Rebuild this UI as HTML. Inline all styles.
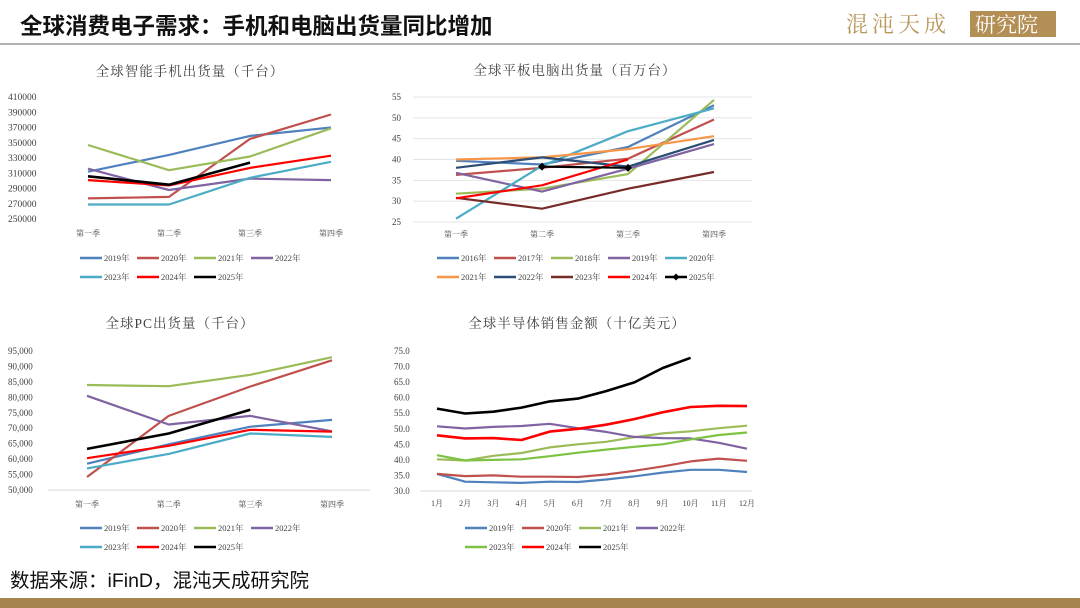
<!DOCTYPE html>
<html><head><meta charset="utf-8">
<style>
body{margin:0;background:#fff;}
#wrap{position:relative;width:1080px;height:608px;overflow:hidden;background:#fff;font-family:"Liberation Serif","Noto Serif CJK SC",serif;}
svg text{font-family:"Liberation Serif","Noto Serif CJK SC",serif;}
</style></head>
<body>
<div id="wrap">
<svg id="svg" width="1080" height="608">
  <text x="20" y="34" font-size="22.5" font-weight="bold" fill="#111" style="font-family:'Liberation Sans','Noto Sans CJK SC',sans-serif">全球消费电子需求：手机和电脑出货量同比增加</text>
  <line x1="0" y1="44" x2="1080" y2="44" stroke="#9a9a9a" stroke-width="1.5"/>
  <text x="846" y="32" font-size="22" fill="#b8975a" letter-spacing="4">混沌天成</text>
  <rect x="970" y="11" width="86" height="26" fill="#b38e55"/>
  <text x="975" y="32" font-size="21" fill="#fff">研究院</text>
  <text x="10" y="587" font-size="19.5" fill="#111" style="font-family:'Liberation Sans','Noto Sans CJK SC',sans-serif">数据来源：iFinD，混沌天成研究院</text>
  <rect x="0" y="598" width="1080" height="10" fill="#a5844f"/>
</svg>
</div>
<script>
// ---- Chart 1: smartphones ----
const phoneCats = ["第一季","第二季","第三季","第四季"];
const phoneTicks = ["250000","270000","290000","310000","330000","350000","370000","390000","410000"];
const phoneNames = ["2019年","2020年","2021年","2022年","2023年","2024年","2025年"];
const phone2019 = [312000,334000,359000,370000];
const phone2020 = [277000,279000,355000,387000];
const phone2021 = [347000,314000,332000,369000];
const phone2022 = [316000,288000,303000,301000];
const phone2023 = [269000,269000,304000,325000];
const phone2024 = [301000,294000,317000,333000];
const phone2025 = [306000,295000,324000];
// ---- Chart 2: tablets ----
const tabCats = ["第一季","第二季","第三季","第四季"];
const tabTicks = ["25","30","35","40","45","50","55"];
const tabNames = ["2016年","2017年","2018年","2019年","2020年","2021年","2022年","2023年","2024年","2025年"];
const tab2016 = [39.7,38.8,43.0,53.0];
const tab2017 = [36.3,38.0,40.2,49.6];
const tab2018 = [31.8,33.0,36.5,54.3];
const tab2019 = [36.8,32.3,37.8,43.7];
const tab2020 = [25.8,38.5,46.8,52.3];
const tab2021 = [40.0,40.5,42.5,45.6];
const tab2022 = [38.0,40.5,38.3,44.7];
const tab2023 = [30.8,28.2,33.0,37.0];
const tab2024 = [30.7,33.8,40.0];
const tab2025 = [null,38.3,38.0];
// ---- Chart 3: PC ----
const pcCats = ["第一季","第二季","第三季","第四季"];
const pcTicks = ["50,000","55,000","60,000","65,000","70,000","75,000","80,000","85,000","90,000","95,000"];
const pcNames = ["2019年","2020年","2021年","2022年","2023年","2024年","2025年"];
const pc2019 = [58500,64800,70500,72700];
const pc2020 = [54200,74000,83500,92000];
const pc2021 = [84000,83600,87300,93000];
const pc2022 = [80500,71200,74000,69000];
const pc2023 = [57000,61700,68300,67200];
const pc2024 = [60300,64300,69500,68900];
const pc2025 = [63300,68300,76000];
// ---- Chart 4: semiconductors ----
const semiCats = ["1月","2月","3月","4月","5月","6月","7月","8月","9月","10月","11月","12月"];
const semiTicks = ["30.0","35.0","40.0","45.0","50.0","55.0","60.0","65.0","70.0","75.0"];
const semiNames = ["2019年","2020年","2021年","2022年","2023年","2024年","2025年"];
const semi2019 = [35.5,33.0,32.8,32.6,33.0,32.9,33.7,34.7,35.9,36.8,36.8,36.1];
const semi2020 = [35.5,34.8,35.0,34.6,34.6,34.5,35.3,36.5,37.9,39.5,40.4,39.7];
const semi2021 = [40.2,39.8,41.3,42.2,44.0,45.0,45.8,47.3,48.5,49.2,50.2,51.0];
const semi2022 = [50.8,50.1,50.6,50.9,51.6,50.2,49.0,47.4,47.0,46.9,45.5,43.6];
const semi2023 = [41.5,39.8,40.0,40.2,41.2,42.3,43.3,44.2,45.0,46.6,48.0,48.8];
const semi2024 = [47.9,46.9,47.0,46.4,49.1,50.0,51.3,53.1,55.3,57.0,57.4,57.3];
const semi2025 = [56.5,54.9,55.5,56.8,58.8,59.7,62.1,64.9,69.5,72.8];

const svg = document.getElementById('svg');
const NS = 'http://www.w3.org/2000/svg';
function mk(tag, attrs){ const e=document.createElementNS(NS,tag); for(const k in attrs) e.setAttribute(k,attrs[k]); svg.appendChild(e); return e; }

function drawChart(cfg){
  const g = cfg;
  const yv = g.ticks.map(t=>parseFloat(t.replace(/,/g,'')));
  const ymin=yv[0], ymax=yv[yv.length-1];
  const ys = v => g.yBot - (v-ymin)/(ymax-ymin)*(g.yBot-g.yTop);
  const n=g.cats.length;
  const xs = i => g.x0 + i*(g.x1-g.x0)/(n-1);
  let t=mk('text',{x:g.titleX,y:g.titleY,'font-size':13.5,fill:'#404040','text-anchor':'middle','letter-spacing':'1'});
  t.textContent=g.title;
  
  
  g.ticks.forEach((lab,i)=>{
    const y=ys(yv[i]);
    if(g.grid){ const l=mk('line',{x1:g.gx0,x2:g.gx1,y1:y,y2:y,stroke:'#e4e4e4','stroke-width':1});
      
       }
    const tx=mk('text',{x:g.labX,y:y+3,'font-size':g.tickFs,fill:'#404040','text-anchor':g.labAnchor});
    tx.textContent=lab;
    
    
  });
  if(g.axis){ const a=mk('line',{x1:g.gx0,x2:g.gx1,y1:g.yBot,y2:g.yBot,stroke:'#d9d9d9','stroke-width':1});
    
     }
  g.cats.forEach((c,i)=>{
    const tx=mk('text',{x:xs(i),y:g.catY,'font-size':g.catFs,fill:'#404040','text-anchor':'middle'});
    tx.textContent=c;
    
    
  });
  g.series.forEach((s,si)=>{
    let d='';
    s.data.forEach((v,i)=>{ if(v==null) return; d += (d?'L':'M')+xs(i).toFixed(1)+','+ys(v).toFixed(1); });
    const p=mk('path',{d:d,fill:'none',stroke:s.color,'stroke-width':s.w||2.2,'stroke-linejoin':'round'});
    
    
    if(s.marker){ s.data.forEach((v,i)=>{ if(v==null) return;
      const m=mk('path',{d:`M${xs(i)},${ys(v)-4}L${xs(i)+4},${ys(v)}L${xs(i)},${ys(v)+4}L${xs(i)-4},${ys(v)}Z`,fill:'#000'});
      
       }); }
    const row=Math.floor(si/g.perRow), col=si%g.perRow;
    const lx=g.legX+col*g.legW, ly=g.legY+row*19;
    const ls=mk('line',{x1:lx,x2:lx+22,y1:ly,y2:ly,stroke:s.color,'stroke-width':2.5});
    
    
    if(s.marker){ const m=mk('path',{d:`M${lx+11},${ly-3.5}L${lx+14.5},${ly}L${lx+11},${ly+3.5}L${lx+7.5},${ly}Z`,fill:'#000'});
      
       }
    const lt=mk('text',{x:lx+24,y:ly+3,'font-size':8.5,fill:'#404040'});
    lt.textContent=s.name;
    
    
  });
}

const C = {b:'#4f81bd',r:'#c0504d',g:'#9bbb59',p:'#8064a2',c:'#4bacc6',o:'#f79646',n:'#2c4d75',m:'#772c2a',red:'#ff0000',k:'#000'};

drawChart({key:'phone',title:'全球智能手机出货量（千台）',titleX:190,titleY:76,cats:phoneCats,ticks:phoneTicks,
  x0:88,x1:331,yTop:97,yBot:219,labX:8,labAnchor:'start',tickFs:9.5,catY:236,catFs:8,gx0:50,gx1:370,grid:false,axis:false,
  legX:80,legY:258,legW:57,perRow:4,
  series:[{name:phoneNames[0],data:phone2019,color:C.b},{name:phoneNames[1],data:phone2020,color:C.r},{name:phoneNames[2],data:phone2021,color:C.g},
    {name:phoneNames[3],data:phone2022,color:C.p},{name:phoneNames[4],data:phone2023,color:C.c},{name:phoneNames[5],data:phone2024,color:C.red},{name:phoneNames[6],data:phone2025,color:C.k,w:2.6}]});

drawChart({key:'tablet',title:'全球平板电脑出货量（百万台）',titleX:575,titleY:75,cats:tabCats,ticks:tabTicks,
  x0:456,x1:714,yTop:97,yBot:222,labX:392,labAnchor:'start',tickFs:9,catY:237,catFs:8,gx0:413,gx1:752,grid:true,axis:false,
  legX:437,legY:258,legW:57,perRow:5,
  series:[{name:tabNames[0],data:tab2016,color:C.b},{name:tabNames[1],data:tab2017,color:C.r},{name:tabNames[2],data:tab2018,color:C.g},
    {name:tabNames[3],data:tab2019,color:C.p},{name:tabNames[4],data:tab2020,color:C.c},{name:tabNames[5],data:tab2021,color:C.o},
    {name:tabNames[6],data:tab2022,color:C.n},{name:tabNames[7],data:tab2023,color:C.m},{name:tabNames[8],data:tab2024,color:C.red},
    {name:tabNames[9],data:tab2025,color:C.k,marker:true}]});

drawChart({key:'pc',title:'全球PC出货量（千台）',titleX:180,titleY:328,cats:pcCats,ticks:pcTicks,
  x0:87,x1:332,yTop:351,yBot:490,labX:8,labAnchor:'start',tickFs:9,catY:507,catFs:8,gx0:48,gx1:370,grid:false,axis:true,
  legX:80,legY:528,legW:57,perRow:4,
  series:[{name:pcNames[0],data:pc2019,color:C.b},{name:pcNames[1],data:pc2020,color:C.r},{name:pcNames[2],data:pc2021,color:C.g},
    {name:pcNames[3],data:pc2022,color:C.p},{name:pcNames[4],data:pc2023,color:C.c},{name:pcNames[5],data:pc2024,color:C.red},{name:pcNames[6],data:pc2025,color:C.k,w:2.6}]});

drawChart({key:'semi',title:'全球半导体销售金额（十亿美元）',titleX:577,titleY:328,cats:semiCats,ticks:semiTicks,
  x0:437,x1:747,yTop:351,yBot:491,labX:394,labAnchor:'start',tickFs:9,catY:506,catFs:8,gx0:420,gx1:752,grid:false,axis:true,
  legX:465,legY:528,legW:57,perRow:4,
  series:[{name:semiNames[0],data:semi2019,color:C.b},{name:semiNames[1],data:semi2020,color:C.r},{name:semiNames[2],data:semi2021,color:C.g},
    {name:semiNames[3],data:semi2022,color:C.p},{name:semiNames[4],data:semi2023,color:'#7dc242'},{name:semiNames[5],data:semi2024,color:C.red,w:2.6},{name:semiNames[6],data:semi2025,color:C.k,w:2.6}]});
</script>
</body></html>
